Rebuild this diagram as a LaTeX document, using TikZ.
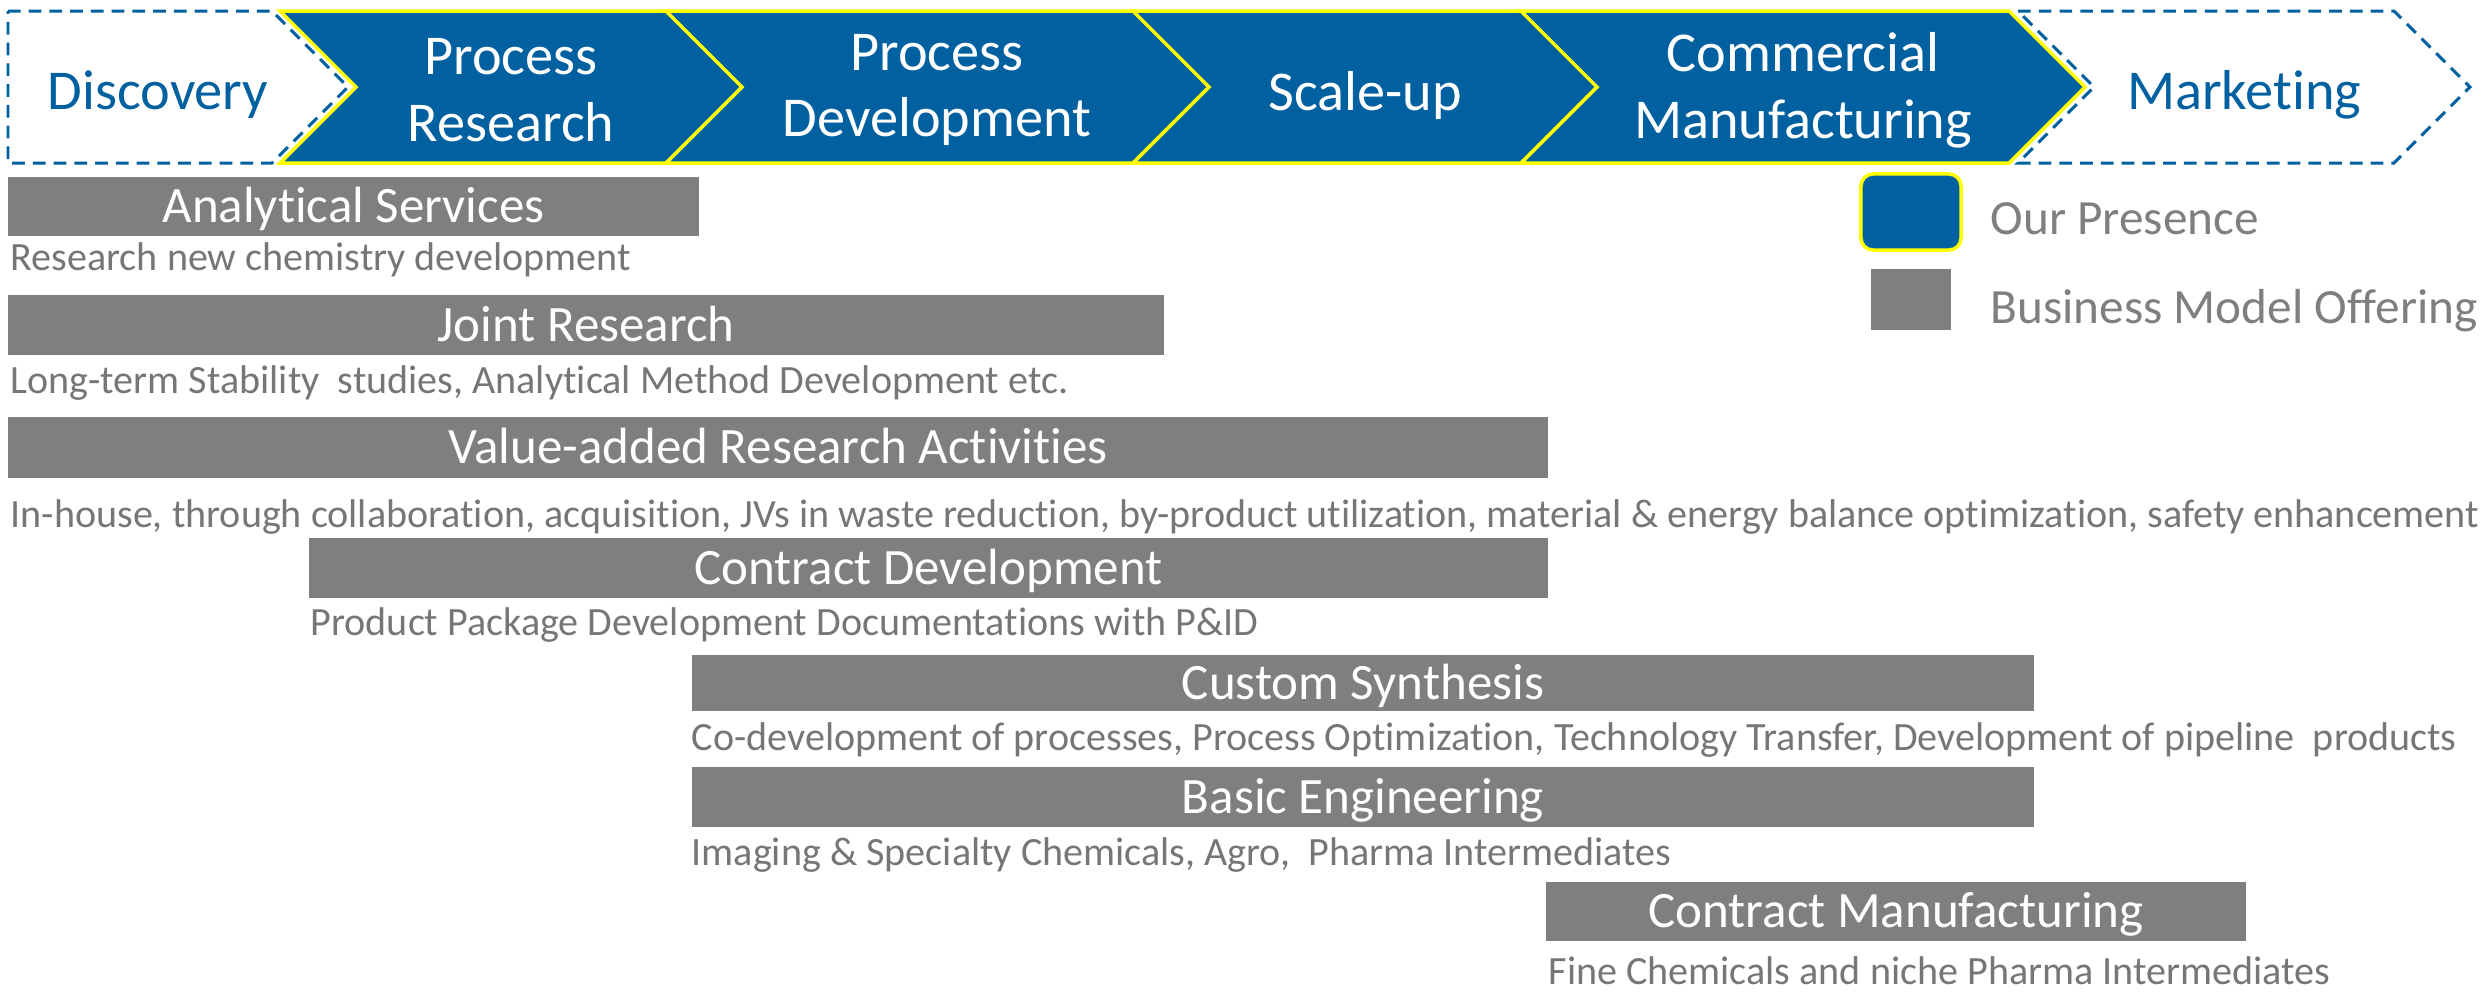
\documentclass[tikz,border=0pt]{standalone}
\usepackage{fontspec}
\setmainfont{Carlito}[Ligatures=NoCommon]
\usetikzlibrary{positioning}
\definecolor{presblue}{RGB}{0,96,160}
\definecolor{offergray}{RGB}{127,127,127}
\definecolor{notegray}{RGB}{118,118,118}
\definecolor{edgeyellow}{RGB}{255,255,0}

\begin{document}
\begin{tikzpicture}[
  x=0.01cm, y=-0.01cm,
  stage/.style={fill=presblue, draw=edgeyellow, line width=1pt, line join=miter},
  openstage/.style={draw=presblue, line width=0.85pt, dash pattern=on 3.6pt off 2.3pt},
  stagelbl/.style={text=white, align=center, inner sep=0pt, font=\fontsize{16}{19}\selectfont},
  openlbl/.style={text=presblue, align=center, inner sep=0pt, font=\fontsize{16}{19}\selectfont},
  offer/.style={rectangle, fill=offergray, text=white, inner sep=0pt, text height=9.3pt, text depth=0pt,
                font=\fontsize{14.5}{17}\selectfont},
  note/.style={anchor=west, inner sep=0pt, text=notegray, font=\fontsize{11.4}{13}\selectfont},
  legtxt/.style={anchor=west, inner sep=0pt, text=offergray, font=\fontsize{14}{17}\selectfont}
]
\useasboundingbox (0,0) rectangle (2484,993);

% value chain
\draw[openstage] (8,11) -- (272,11) -- (348,87) -- (272,163) -- (8,163) -- cycle;
\node[openlbl] (disc) at (158,95) {Discovery};
\draw[stage] (280,11) -- (666,11) -- (742,87) -- (666,163) -- (280,163) -- (356,87) -- cycle;
\node[stagelbl] (prores) at (511,90) {Process\\Research};
\draw[stage] (666,11) -- (1133,11) -- (1209,87) -- (1133,163) -- (666,163) -- (742,87) -- cycle;
\node[stagelbl] (prodev) at (937,90) {Process\\Development};
\draw[stage] (1133,11) -- (1521,11) -- (1597,87) -- (1521,163) -- (1133,163) -- (1209,87) -- cycle;
\node[stagelbl] (scale) at (1365,95) {Scale-up};
\draw[stage] (1521,11) -- (2009,11) -- (2085,87) -- (2009,163) -- (1521,163) -- (1597,87) -- cycle;
\node[stagelbl] (commfg) at (1803,90) {Commercial\\Manufacturing};
\draw[openstage] (2018,11) -- (2394,11) -- (2470,87) -- (2394,163) -- (2018,163) -- (2094,87) -- cycle;
\node[openlbl] (mkt) at (2244,95) {Marketing};

% offerings
\node[offer, minimum width=6.91cm, minimum height=0.59cm] (anasrv) at (353.5,206.5) {Analytical Services};
\node[note] (anasrvnote) at (10,260) {Research new chemistry development};
\node[offer, minimum width=11.56cm, minimum height=0.60cm] (joint) at (586,325) {Joint Research};
\node[note] (jointnote) at (10,383) {Long-term Stability~ studies, Analytical Method Development etc.};
\node[offer, minimum width=15.40cm, minimum height=0.61cm] (value) at (778,447.5) {Value-added Research Activities};
\node[note] (valuenote) at (10,517) {In-house, through collaboration, acquisition, JVs in waste reduction, by-product utilization, material \& energy balance optimization, safety enhancement};
\node[offer, minimum width=12.39cm, minimum height=0.60cm] (contdev) at (928.5,568) {Contract Development};
\node[note] (contdevnote) at (310,625) {Product Package Development Documentations with P\&ID};
\node[offer, minimum width=13.42cm, minimum height=0.56cm] (custsyn) at (1363,683) {Custom Synthesis};
\node[note] (custsynnote) at (691,740) {Co-development of processes, Process Optimization, Technology Transfer, Development of pipeline~ products};
\node[offer, minimum width=13.42cm, minimum height=0.60cm] (basic) at (1363,797) {Basic Engineering};
\node[note] (basicnote) at (691,855) {Imaging \& Specialty Chemicals, Agro,~ Pharma Intermediates};
\node[offer, minimum width=7.00cm, minimum height=0.59cm] (contmfg) at (1896,911.5) {Contract Manufacturing};
\node[note] (contmfgnote) at (1548,971) {Fine Chemicals and niche Pharma Intermediates};

% legend
\node[fill=presblue, draw=edgeyellow, line width=1pt, rounded corners=0.12cm,
      minimum width=1.0cm, minimum height=0.76cm] (legpres) at (1911,212) {};
\node[legtxt] (legpreslbl) at (1990,219) {Our Presence};
\node[fill=offergray, minimum width=0.80cm, minimum height=0.61cm] (legoffer) at (1911,299.5) {};
\node[legtxt] (legofferlbl) at (1990,311) {Business Model Offering};
\end{tikzpicture}
\end{document}
